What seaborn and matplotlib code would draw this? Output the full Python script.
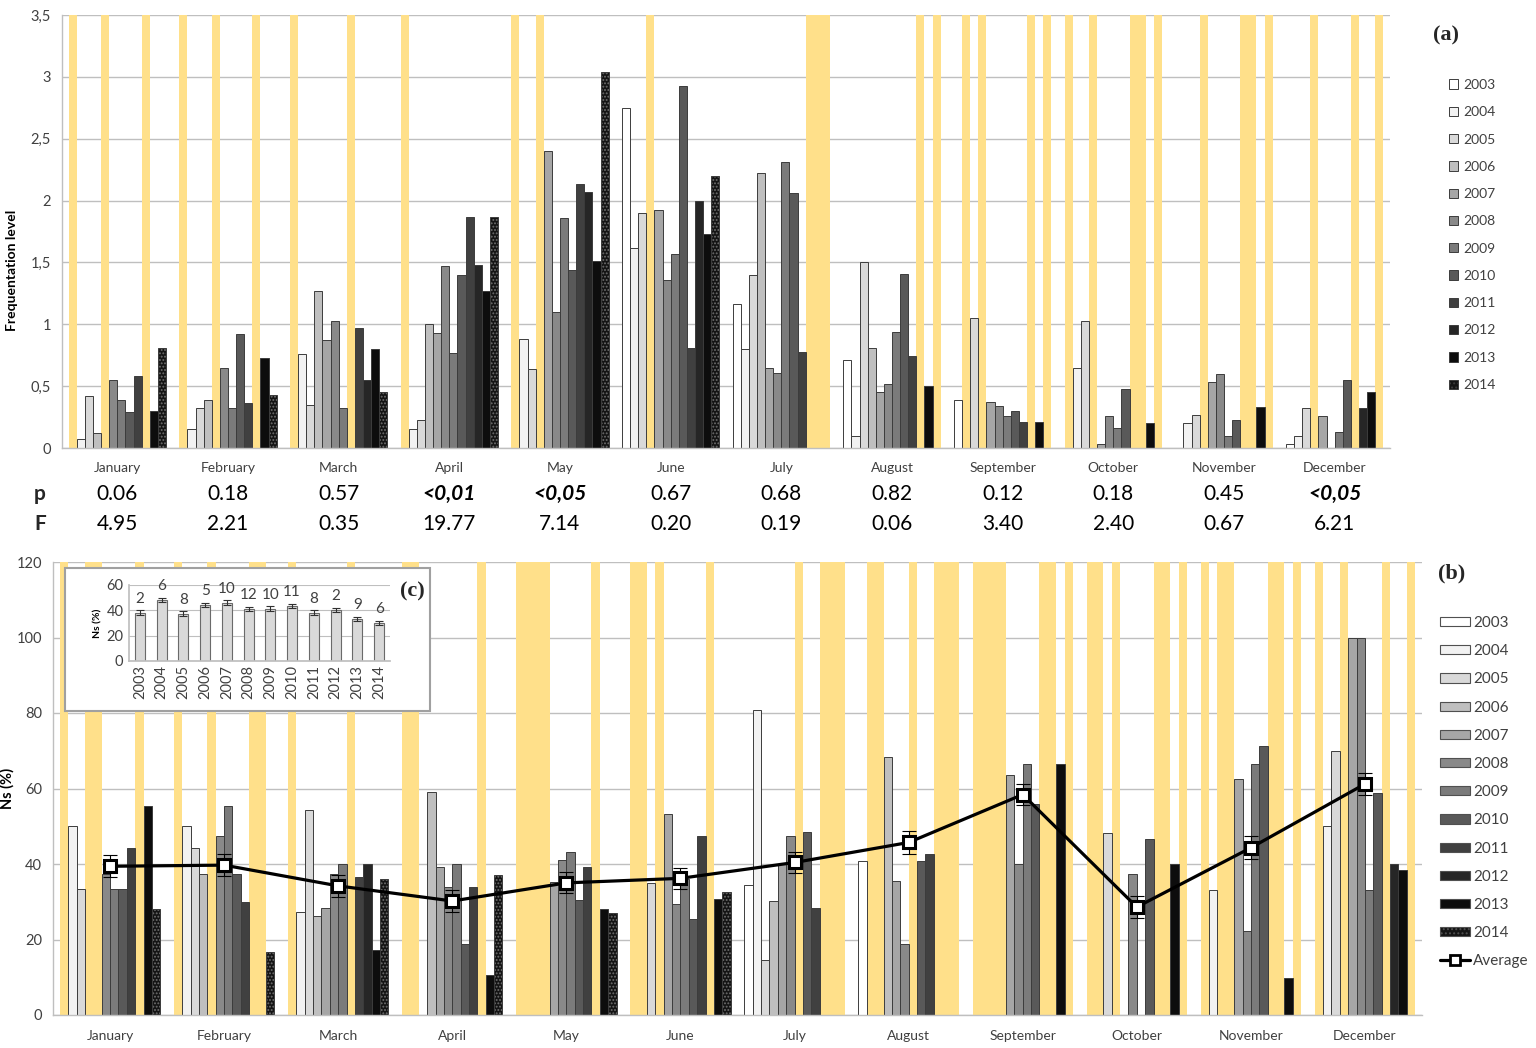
"""
Seasonal frequentation (a) and Ns share (b, c) per month and year, 2003-2014.
"""

import matplotlib
matplotlib.use("Agg")

import numpy as np
import pandas as pd
import matplotlib.pyplot as plt
import matplotlib.colors as mcolors
from matplotlib.patches import Patch, Rectangle
from matplotlib.lines import Line2D
from matplotlib.ticker import FuncFormatter
import seaborn as sns

MONTHS = ["January", "February", "March", "April", "May", "June", "July",
          "August", "September", "October", "November", "December"]
YEARS = ["2003", "2004", "2005", "2006", "2007", "2008",
         "2009", "2010", "2011", "2012", "2013", "2014"]

# (a) frequentation level, one list per month, one value per year (2003..2014)
# None = year not sampled that month (yellow band), 0 = sampled but empty
FREQ_JAN = [None, 0.07, 0.42, 0.12, None, 0.55, 0.39, 0.29, 0.58, None, 0.30, 0.81]
FREQ_FEB = [None, 0.15, 0.32, 0.39, None, 0.65, 0.32, 0.92, 0.36, None, 0.73, 0.43]
FREQ_MAR = [None, 0.76, 0.35, 1.27, 0.87, 1.03, 0.32, None, 0.97, 0.55, 0.80, 0.45]
FREQ_APR = [None, 0.15, 0.23, 1.00, 0.93, 1.47, 0.77, 1.40, 1.87, 1.48, 1.27, 1.87]
FREQ_MAY = [None, 0.88, 0.64, None, 2.40, 1.10, 1.86, 1.44, 2.13, 2.07, 1.51, 3.04]
FREQ_JUN = [2.75, 1.62, 1.90, None, 1.92, 1.36, 1.57, 2.93, 0.81, 2.00, 1.73, 2.20]
FREQ_JUL = [1.16, 0.80, 1.40, 2.22, 0.65, 0.61, 2.31, 2.06, 0.78, None, None, None]
FREQ_AUG = [0.71, 0.10, 1.50, 0.81, 0.45, 0.52, 0.94, 1.41, 0.74, None, 0.50, None]
FREQ_SEP = [0.39, None, 1.05, None, 0.37, 0.34, 0.26, 0.30, 0.21, None, 0.21, None]
FREQ_OCT = [None, 0.65, 1.03, None, 0.03, 0.26, 0.16, 0.48, None, None, 0.20, None]
FREQ_NOV = [0, 0.20, 0.27, None, 0.53, 0.60, 0.10, 0.23, None, None, 0.33, None]
FREQ_DEC = [0.03, 0.10, 0.32, None, 0.26, 0, 0.13, 0.55, None, 0.32, 0.45, None]

P_VALUES = ["0.06", "0.18", "0.57", "<0,01", "<0,05", "0.67",
            "0.68", "0.82", "0.12", "0.18", "0.45", "<0,05"]
F_VALUES = ["4.95", "2.21", "0.35", "19.77", "7.14", "0.20",
            "0.19", "0.06", "3.40", "2.40", "0.67", "6.21"]

# (b) Ns (%) per month and year
NS_JAN = [None, 50.0, 33.3, None, None, 37.3, 33.3, 33.3, 44.3, None, 55.4, 28.1]
NS_FEB = [None, 50.0, 44.3, 37.3, None, 47.4, 55.4, 37.3, 30.0, None, None, 16.8]
NS_MAR = [None, 27.3, 54.4, 26.3, 28.4, 37.3, 40.0, None, 36.5, 40.0, 17.3, 35.9]
NS_APR = [None, None, 0, 59.2, 39.2, 34.0, 40.0, 18.8, 33.8, None, 10.6, 37.1]
NS_MAY = [None, None, None, None, 35.3, 41.1, 43.1, 30.4, 39.3, None, 28.2, 27.0]
NS_JUN = [None, None, 35.0, None, 53.2, 29.3, 36.0, 25.4, 47.5, None, 30.6, 32.6]
NS_JUL = [34.4, 80.8, 14.7, 30.3, 40.0, 47.4, None, 48.6, 28.4, None, None, None]
NS_AUG = [40.9, None, None, 68.3, 35.5, 18.7, None, 40.9, 42.7, None, None, None]
NS_SEP = [None, None, None, None, 63.5, 40.0, 66.5, 56.0, None, None, 66.5, None]
NS_OCT = [None, None, 48.1, None, 0, 37.3, 0, 46.6, None, None, 40.0, None]
NS_NOV = [None, 33.2, None, None, 62.5, 22.3, 66.5, 71.2, None, None, 9.9, None]
NS_DEC = [None, 50.0, 69.9, None, 100.0, 100.0, 33.2, 58.8, None, 40.0, 38.3, None]

NS_AVG = [39.4, 39.7, 34.2, 30.2, 35.0, 36.2, 40.4, 45.7, 58.4, 28.6, 44.3, 61.2]
NS_AVG_ERR = [2.9, 3.0, 3.0, 3.0, 2.8, 2.8, 2.8, 3.0, 2.8, 2.8, 3.0, 3.0]

# (c) Ns (%) per year, with number of samples above the bars
INSET_NS = [38.1, 48.5, 37.4, 44.5, 46.1, 41.3, 41.3, 43.2, 38.1, 40.5, 33.4, 29.9]
INSET_ERR = [1.8, 1.6, 1.8, 1.5, 1.8, 1.6, 2.0, 1.6, 2.0, 1.6, 1.5, 1.6]
INSET_N = [2, 6, 8, 5, 10, 12, 10, 11, 8, 2, 9, 6]

YEAR_COLORS = ["#FFFFFF", "#F2F2F2", "#D9D9D9", "#BFBFBF", "#A6A6A6", "#898989",
               "#7B7B7B", "#595959", "#404040", "#262626", "#0D0D0D", "#141414"]
YELLOW = "#FFE08A"
EDGE = "#3C3C3C"
GRID = "#BFBFBF"
TEXT = "#404040"
BAR_WIDTH = 0.88

sns.set_theme(style="white")
plt.rcParams["font.family"] = ["Lato", "DejaVu Sans"]
plt.rcParams["hatch.linewidth"] = 0.9


def to_long(rows):
    recs = []
    for month, vals in zip(MONTHS, rows):
        for year, v in zip(YEARS, vals):
            recs.append({"month": month, "year": year, "value": v})
    df = pd.DataFrame(recs)
    df["value"] = df["value"].astype(float)
    return df


def draw_bars(ax, df, ymax):
    """Yellow full-height bands for unsampled slots, grey bars for the data."""
    missing = df[df["value"].isna()].assign(value=ymax)
    present = df.dropna(subset=["value"])

    sns.barplot(data=missing, x="month", y="value", hue="year", order=MONTHS,
                hue_order=YEARS, palette={y: YELLOW for y in YEARS}, width=BAR_WIDTH,
                linewidth=0, saturation=1, errorbar=None, legend=False, ax=ax)
    sns.barplot(data=present, x="month", y="value", hue="year", order=MONTHS,
                hue_order=YEARS, palette=dict(zip(YEARS, YEAR_COLORS)), width=BAR_WIDTH,
                edgecolor=EDGE, linewidth=0.7, saturation=1, errorbar=None,
                legend=False, ax=ax)

    # dotted fill for the last year
    last = mcolors.to_hex(YEAR_COLORS[-1])
    for p in ax.patches:
        if mcolors.to_hex(p.get_facecolor()) == last:
            p.set_hatch(".....")
            p._hatch_color = mcolors.to_rgba("#707070")


def style_month_axis(ax, ymax, step):
    ax.set_xlim(-0.5, 11.5)
    ax.set_ylim(0, ymax)
    ax.set_yticks(np.arange(0, ymax + step / 2, step))
    ax.set_axisbelow(True)
    ax.yaxis.grid(True, color=GRID, linewidth=1)
    ax.xaxis.grid(False)
    for side in ["top", "right"]:
        ax.spines[side].set_visible(False)
    for side in ["left", "bottom"]:
        ax.spines[side].set_color(GRID)
        ax.spines[side].set_linewidth(1)
    ax.set_xticks(np.arange(-0.5, 12, 1), minor=True)
    ax.tick_params(axis="x", which="major", length=0, pad=10, labelsize=10, labelcolor=TEXT)
    ax.tick_params(axis="x", which="minor", length=5, direction="out", color=GRID, width=1)
    ax.tick_params(axis="y", length=0, pad=8, labelsize=10.5, labelcolor=TEXT)
    ax.set_xlabel("")


W, H = 1536, 1048
fig = plt.figure(figsize=(W / 100, H / 100), dpi=100)

# ---------------- (a) frequentation level ----------------
ax_a = fig.add_axes([62 / W, 1 - 448 / H, 1328 / W, 433 / H])
freq_df = to_long([FREQ_JAN, FREQ_FEB, FREQ_MAR, FREQ_APR, FREQ_MAY, FREQ_JUN,
                   FREQ_JUL, FREQ_AUG, FREQ_SEP, FREQ_OCT, FREQ_NOV, FREQ_DEC])
draw_bars(ax_a, freq_df, 3.5)
style_month_axis(ax_a, 3.5, 0.5)
ax_a.yaxis.set_major_formatter(FuncFormatter(lambda v, _: f"{v:g}".replace(".", ",")))
ax_a.set_ylabel("Frequentation level", fontsize=10, fontweight="bold", color="black")
ax_a.yaxis.set_label_coords(-0.033, 0.41)

xform = ax_a.get_xaxis_transform()
for i, (pv, fv) in enumerate(zip(P_VALUES, F_VALUES)):
    bold = pv.startswith("<")
    ax_a.text(i, -0.106, pv, transform=xform, ha="center", va="center", fontsize=15,
              fontweight="bold" if bold else "normal",
              fontstyle="italic" if bold else "normal", color="black")
    ax_a.text(i, -0.176, fv, transform=xform, ha="center", va="center", fontsize=15,
              color="black")
fig.text(40 / W, 1 - 494 / H, "p", ha="center", va="center", fontsize=15, fontweight="bold")
fig.text(40 / W, 1 - 524 / H, "F", ha="center", va="center", fontsize=15, fontweight="bold")

handles_a = [Patch(facecolor=c, edgecolor=EDGE, linewidth=0.7,
                   hatch="...." if y == YEARS[-1] else None)
             for y, c in zip(YEARS, YEAR_COLORS)]
fig.legend(handles_a, YEARS, loc="upper left", bbox_to_anchor=(1449 / W, 1 - 79 / H),
           frameon=False, fontsize=10, labelcolor=TEXT, handlelength=0.65, handleheight=0.65,
           handletextpad=0.35, labelspacing=1.1, borderpad=0, borderaxespad=0)
fig.text(1446 / W, 1 - 35 / H, "(a)", ha="center", va="center", fontsize=16,
         fontweight="bold", family="Liberation Serif")

# ---------------- (b) Ns per month ----------------
ax_b = fig.add_axes([53 / W, 1 - 1015 / H, 1369 / W, 453 / H])
ns_df = to_long([NS_JAN, NS_FEB, NS_MAR, NS_APR, NS_MAY, NS_JUN,
                 NS_JUL, NS_AUG, NS_SEP, NS_OCT, NS_NOV, NS_DEC])
draw_bars(ax_b, ns_df, 120)

ax_b.errorbar(np.arange(len(MONTHS)), NS_AVG, yerr=NS_AVG_ERR, fmt="none", ecolor="black",
              elinewidth=0.8, capsize=5, capthick=0.8, zorder=4)
sns.pointplot(x=MONTHS, y=NS_AVG, order=MONTHS, color="black", markers="s",
              markersize=8, markerfacecolor="white", markeredgecolor="black",
              markeredgewidth=2.2, linewidth=2.3, errorbar=None, zorder=5, ax=ax_b)
style_month_axis(ax_b, 120, 20)
ax_b.tick_params(axis="x", which="major", pad=11)
ax_b.set_ylabel("Ns (%)", fontsize=10.5, fontweight="bold", color="black")
ax_b.yaxis.set_label_coords(-0.028, 0.5)

handles_b = [Patch(facecolor=c, edgecolor="#505050", linewidth=0.8,
                   hatch="...." if y == YEARS[-1] else None)
             for y, c in zip(YEARS, YEAR_COLORS)]
handles_b.append(Line2D([], [], color="black", linewidth=2.3, marker="s", markersize=7,
                        markerfacecolor="white", markeredgecolor="black", markeredgewidth=2))
fig.legend(handles_b, YEARS + ["Average"], loc="upper left",
           bbox_to_anchor=(1440 / W, 1 - 616 / H), frameon=False, fontsize=11,
           labelcolor=TEXT, handlelength=1.95, handleheight=0.55, handletextpad=0.2,
           labelspacing=0.93, borderpad=0, borderaxespad=0)
fig.text(1452 / W, 1 - 573 / H, "(b)", ha="center", va="center", fontsize=16,
         fontweight="bold", family="Liberation Serif")

# ---------------- (c) inset: Ns per year ----------------
fig.add_artist(Rectangle((65 / W, 1 - 711 / H), 365 / W, 143 / H, transform=fig.transFigure,
                         facecolor="white", edgecolor="#A0A0A0", linewidth=1.5, zorder=1))
ax_c = fig.add_axes([129 / W, 1 - 661 / H, 261 / W, 76 / H])
ax_c.set_zorder(2)
ax_c.patch.set_alpha(0)
sns.barplot(x=YEARS, y=INSET_NS, color="#D9D9D9", edgecolor="#6A6A6A", linewidth=0.8,
            width=0.45, saturation=1, errorbar=None, ax=ax_c)
ax_c.errorbar(np.arange(len(YEARS)), INSET_NS, yerr=INSET_ERR, fmt="none", ecolor="#303030",
              elinewidth=0.8, capsize=3, capthick=0.8)
for i, (v, n) in enumerate(zip(INSET_NS, INSET_N)):
    ax_c.text(i, v + 11, str(n), ha="center", va="center", fontsize=11, color=TEXT,
              clip_on=False)
ax_c.set_xlim(-0.5, 11.5)
ax_c.set_ylim(0, 60)
ax_c.set_yticks([0, 20, 40, 60])
ax_c.set_axisbelow(True)
ax_c.yaxis.grid(True, color=GRID, linewidth=0.8)
for side in ["top", "right"]:
    ax_c.spines[side].set_visible(False)
for side in ["left", "bottom"]:
    ax_c.spines[side].set_color(GRID)
ax_c.set_xticks(np.arange(-0.5, 12, 1), minor=True)
ax_c.tick_params(axis="x", which="major", length=0, pad=3, labelsize=10.5, labelcolor=TEXT,
                 labelrotation=90)
ax_c.tick_params(axis="x", which="minor", length=4, direction="out", color=GRID)
ax_c.tick_params(axis="y", length=0, pad=4, labelsize=10.5, labelcolor=TEXT)
ax_c.set_ylabel("Ns (%)", fontsize=7.5, fontweight="bold", color="black", labelpad=3)
fig.text(412 / W, 1 - 591 / H, "(c)", ha="center", va="center", fontsize=16,
         fontweight="bold", family="Liberation Serif", zorder=6)

fig.savefig("out.png", dpi=100)
plt.close(fig)
